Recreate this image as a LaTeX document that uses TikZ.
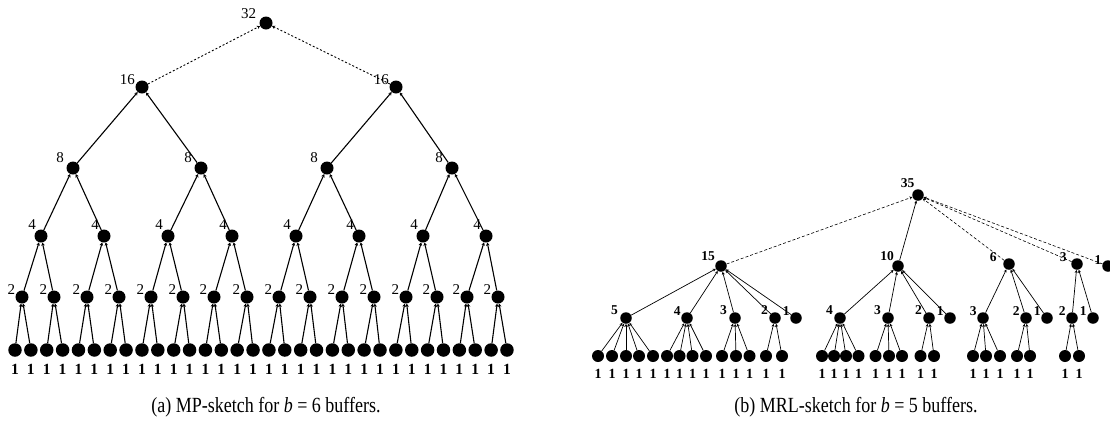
\documentclass[tikz,border=0pt]{standalone}
\usepackage{fontspec}
\setmainfont{Liberation Serif}
\usetikzlibrary{arrows.meta}

\begin{document}
\begin{tikzpicture}[x=1pt,y=-1pt,
  dotL/.style={circle,fill=black,inner sep=0pt,minimum size=13pt},
  leafL/.style={circle,fill=black,inner sep=0pt,minimum size=13.5pt},
  dotR/.style={circle,fill=black,inner sep=0pt,minimum size=11.5pt},
  leafR/.style={circle,fill=black,inner sep=0pt,minimum size=12pt},
  edgeL/.style={line width=1.1pt,-{Stealth[length=3.2pt,width=3.6pt]}},
  edgeR/.style={line width=0.7pt,-{Stealth[length=3pt,width=3pt]}},
  dashL/.style={edgeL,line width=0.9pt,dash pattern=on 2pt off 2pt},
  dashR/.style={edgeR,line width=0.6pt,dash pattern=on 3pt off 2pt},
  numL/.style={font=\fontsize{15}{15}\selectfont,inner sep=0.5pt},
  numR/.style={font=\fontsize{13.5}{13.5}\selectfont\bfseries,inner sep=0.5pt},
  oneL/.style={font=\fontsize{15.5}{15.5}\selectfont\bfseries,inner sep=0pt},
  oneR/.style={font=\fontsize{14}{14}\selectfont\bfseries,inner sep=0pt},
  capt/.style={font=\fontsize{18}{18}\selectfont,inner sep=0pt}
]
\useasboundingbox (0,0) rectangle (1110,432);

% ---------- (a) binary MP tree ----------
\node[dotL,label={[numL,label distance=3pt]160:32}] (r) at (266,23) {};
\foreach \x [count=\i] in {142,396}
  \node[dotL,label={[numL,label distance=0pt]165:16}] (a\i) at (\x,87) {};
\foreach \x [count=\i] in {73,201,327,452}
  \node[dotL,label={[numL,label distance=3pt]150:8}] (b\i) at (\x,168) {};
\foreach \x [count=\i] in {41,104,168,232,296,359,423,486}
  \node[dotL,label={[numL,label distance=1pt]125:4}] (c\i) at (\x,236) {};
\foreach \x [count=\i] in {22,54,87,119,151,183,214,247,279,310,342,374,406,437,467,498}
  \node[dotL,label={[numL,label distance=0pt]160:2}] (d\i) at (\x,297) {};
\foreach \i in {1,...,32}{
  \node[leafL] (e\i) at ({15+15.87*(\i-1)},350) {};
  \node[oneL] (o\i) at ([yshift=-19.5pt]e\i) {1};
}

\foreach \i in {1,2} \draw[dashL] (a\i) -- (r);
\foreach \i in {1,...,4}{
  \pgfmathtruncatemacro\p{(\i+1)/2}
  \draw[edgeL] (b\i) -- (a\p);
}
\foreach \i in {1,...,8}{
  \pgfmathtruncatemacro\p{(\i+1)/2}
  \draw[edgeL] (c\i) -- (b\p);
}
\foreach \i in {1,...,16}{
  \pgfmathtruncatemacro\p{(\i+1)/2}
  \draw[edgeL] (d\i) -- (c\p);
}
\foreach \i in {1,...,32}{
  \pgfmathtruncatemacro\p{(\i+1)/2}
  \draw[edgeL] (e\i) -- (d\p);
}

% ---------- (b) MRL tree ----------
\node[dotR,label={[numR,label distance=1pt]115:35}] (R) at (918,195) {};

\node[dotR,label={[numR,label distance=1pt]140:15}] (g1) at (721,266) {};
\node[dotR,label={[numR,label distance=0pt]125:10}] (g2) at (898,266) {};
\node[dotR,label={[numR,label distance=6pt]170:6}]  (g3) at (1009,264) {};
\node[dotR,label={[numR,label distance=4pt]170:3}]  (g4) at (1077,264) {};
\node[dotR,label={[numR,label distance=0pt]175:1}]  (g5) at (1108,266) {};

\draw[dashR] (g1) -- (R);
\draw[edgeR] (g2) -- (R);
\draw[dashR] (g3) -- (R);
\draw[dashR] (g4) -- (R);
\draw[dashR] (g5) -- (R);

% second level: name/x/label/parent/label distance
\foreach \n/\x/\t/\p/\d in {
    h1/626/5/g1/2pt, h2/687/4/g1/0pt, h3/735/3/g1/2pt, h4/775/2/g1/1pt, h5/796/1/g1/0pt,
    h6/840/4/g2/1pt, h7/888/3/g2/1pt, h8/929/2/g2/1pt, h9/950/1/g2/0pt,
    h10/983/3/g3/0pt, h11/1026/2/g3/0pt, h12/1047/1/g3/0pt,
    h13/1072/2/g4/0pt, h14/1093/1/g4/0pt}{
  \node[dotR,label={[numR,label distance=\d]160:\t}] (\n) at (\x,318) {};
  \draw[edgeR] (\n) -- (\p);
}

% leaves: name/x/parent
\foreach \n/\x/\p in {
    k1/598/h1, k2/612/h1, k3/626/h1, k4/639/h1, k5/653/h1,
    k6/667/h2, k7/679.5/h2, k8/692.5/h2, k9/706/h2,
    k10/722/h3, k11/736/h3, k12/749.5/h3,
    k13/766/h4, k14/782/h4,
    k15/822/h6, k16/834/h6, k17/846/h6, k18/858.5/h6,
    k19/875.5/h7, k20/889/h7, k21/902/h7,
    k22/920.5/h8, k23/934/h8,
    k24/973/h10, k25/986/h10, k26/1000/h10,
    k27/1017/h11, k28/1030/h11,
    k29/1065/h13, k30/1079/h13}{
  \node[leafR] (\n) at (\x,356) {};
  \node[oneR] (\n l) at ([yshift=-18pt]\n) {1};
  \draw[edgeR] (\n) -- (\p);
}

% ---------- captions ----------
\node[capt] (capA) at (266,407) {\scalebox{1}[1.2]{(a) MP-sketch for \textit{b} = 6 buffers.}};
\node[capt] (capB) at (856,407) {\scalebox{1}[1.2]{(b) MRL-sketch for \textit{b} = 5 buffers.}};
\end{tikzpicture}
\end{document}
